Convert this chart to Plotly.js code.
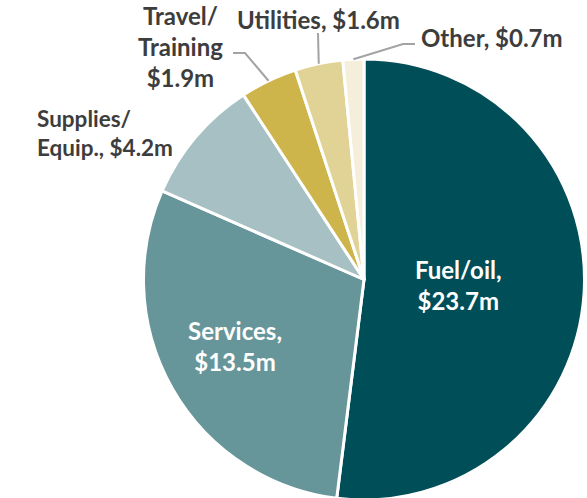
<!DOCTYPE html>
<html>
<head>
<meta charset="utf-8">
<script src="https://cdn.plot.ly/plotly-3.0.1.min.js"></script>
<style>
  html, body { margin: 0; padding: 0; overflow: hidden; background: #ffffff; }
  #chart { width: 587px; height: 502px; }
</style>
</head>
<body>
<div id="chart"></div>
<script>
// ---- data ----
const categories = ['Fuel/oil', 'Services', 'Supplies/Equip.', 'Travel/Training', 'Utilities', 'Other'];
const valuesM = [23.7, 13.5, 4.2, 1.9, 1.6, 0.7];
const labelPrefix = ['Fuel/oil,<br>', 'Services,<br>', 'Supplies/<br>Equip., ', 'Travel/<br>Training<br>', 'Utilities, ', 'Other, '];
const sliceColors = ['#004e58', '#66969a', '#a7c0c3', '#ceb54b', '#e1d395', '#f4eedb'];

// ---- layout constants ----
const W = 587, H = 502;
const CX = 364, CY = 279.5, R = 220.5;
const domX = [(CX - R) / W, (CX + R) / W];
const domY = [1 - (CY + R) / H, 1 - (CY - R) / H];

const px = x => x / W;
const py = y => 1 - y / H;

// label placement (pixel centers) and style per slice
const labelPos = [
  {x: 458, y: 285, xa: 'center', align: 'center', color: '#ffffff', size: 24},
  {x: 235, y: 346, xa: 'center', align: 'center', color: '#ffffff', size: 24},
  {x: 35,  y: 133, xa: 'left',   align: 'left',   color: '#3d3d3d', size: 22.5},
  {x: 180, y: 46,  xa: 'center', align: 'center', color: '#3d3d3d', size: 24},
  {x: 318, y: 20,  xa: 'center', align: 'center', color: '#3d3d3d', size: 24},
  {x: 419, y: 37,  xa: 'left',   align: 'left',   color: '#3d3d3d', size: 24}
];
// leader line start points (pixel) — null means no leader line
const leaderStart = [null, null, null, [[233, 53], [245, 53]], [[318, 33]], [[415, 44], [403, 44]]];

const total = valuesM.reduce((a, b) => a + b, 0);
let cum = 0;
const midAngles = valuesM.map(v => { const m = (cum + v / 2) / total; cum += v; return m * 2 * Math.PI; });

const annotations = valuesM.map((v, i) => ({
  xref: 'paper', yref: 'paper',
  x: px(labelPos[i].x), y: py(labelPos[i].y),
  xanchor: labelPos[i].xa, yanchor: 'middle', align: labelPos[i].align,
  text: '<b>' + labelPrefix[i] + '$' + v.toFixed(1) + 'm</b>',
  showarrow: false,
  font: {family: 'Lato, "Open Sans", sans-serif', size: labelPos[i].size, color: labelPos[i].color}
}));

const shapes = [];
leaderStart.forEach((pts, i) => {
  if (!pts) return;
  const a = midAngles[i];
  const ex = CX + R * Math.sin(a), ey = CY - R * Math.cos(a);
  const all = pts.concat([[ex, ey]]);
  const path = all.map((p, k) => (k ? 'L' : 'M') + px(p[0]).toFixed(5) + ',' + py(p[1]).toFixed(5)).join(' ');
  shapes.push({type: 'path', xref: 'paper', yref: 'paper', path: path,
    line: {color: '#a3a3a3', width: 2}});
});

const trace = {
  type: 'pie',
  labels: categories,
  values: valuesM,
  sort: false,
  direction: 'clockwise',
  rotation: 0,
  textinfo: 'none',
  hoverinfo: 'label+value',
  marker: {colors: sliceColors, line: {color: '#ffffff', width: 3}},
  domain: {x: domX, y: domY},
  showlegend: false
};

const layout = {
  width: W, height: H,
  margin: {l: 0, r: 0, t: 0, b: 0},
  paper_bgcolor: '#ffffff',
  showlegend: false,
  annotations: annotations,
  shapes: shapes
};

Plotly.newPlot('chart', [trace], layout, {displayModeBar: false, staticPlot: true});
</script>
</body>
</html>
